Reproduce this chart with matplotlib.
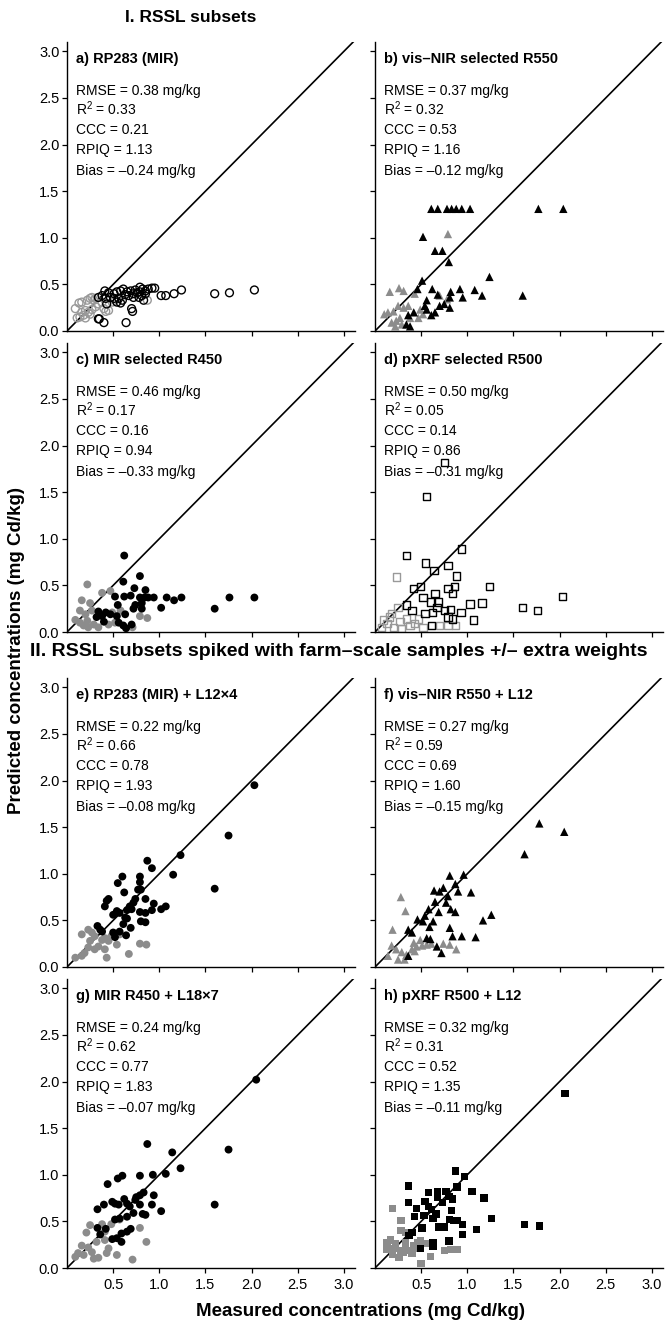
import numpy as np
import matplotlib
matplotlib.use("Agg")
import matplotlib.pyplot as plt

plt.rcParams['font.family'] = ['Liberation Sans', 'DejaVu Sans']
plt.rcParams['mathtext.fontset'] = 'custom'
plt.rcParams['mathtext.rm'] = 'Liberation Sans'
plt.rcParams['mathtext.it'] = 'Liberation Sans:italic'

# ---- data (measured x, predicted y) ----
# a) RP283 (MIR): open circles
a_blk_x = [0.41, 0.45, 0.51, 0.54, 0.58, 0.61, 0.65, 0.69, 0.72, 0.76, 0.79, 0.82, 0.85, 0.88, 0.92, 0.95,
           0.79, 0.81, 0.83, 0.78, 0.72, 0.60, 0.56, 0.54, 0.58, 0.42, 0.43, 0.70, 0.71, 0.34, 0.35, 0.40,
           0.64, 1.02, 1.07, 1.16, 1.24, 1.60, 1.76, 2.03, 0.34, 0.38, 0.47, 0.51, 0.63, 0.67, 0.74, 0.85]
a_blk_y = [0.43, 0.41, 0.40, 0.42, 0.43, 0.45, 0.42, 0.43, 0.40, 0.41, 0.47, 0.45, 0.43, 0.45, 0.46, 0.46,
           0.42, 0.38, 0.33, 0.36, 0.36, 0.33, 0.35, 0.31, 0.30, 0.35, 0.29, 0.24, 0.21, 0.13, 0.13, 0.09,
           0.09, 0.38, 0.38, 0.40, 0.44, 0.40, 0.41, 0.44, 0.36, 0.38, 0.36, 0.35, 0.39, 0.38, 0.44, 0.40]
a_gry_x = [0.09, 0.13, 0.16, 0.22, 0.25, 0.27, 0.29, 0.31, 0.11, 0.14, 0.18, 0.20, 0.23, 0.27, 0.31, 0.34,
           0.38, 0.40, 0.45, 0.49, 0.52, 0.87, 0.20, 0.25, 0.16, 0.42]
a_gry_y = [0.24, 0.30, 0.31, 0.33, 0.35, 0.36, 0.33, 0.35, 0.14, 0.15, 0.17, 0.22, 0.20, 0.23, 0.26, 0.29,
           0.31, 0.24, 0.22, 0.31, 0.33, 0.33, 0.14, 0.18, 0.20, 0.21]

# b) vis-NIR selected R550: triangles
b_blk_x = [0.61, 0.68, 0.78, 0.83, 0.88, 0.94, 1.03, 1.77, 2.04, 0.52, 0.65, 0.73, 0.80, 0.51, 1.24, 0.46,
           0.62, 0.68, 0.82, 0.92, 0.95, 1.08, 1.16, 1.60, 0.56, 0.54, 0.70, 0.75, 0.81, 0.61, 0.65, 0.42,
           0.36, 0.34, 0.38, 0.56, 0.81]
b_blk_y = [1.31, 1.31, 1.31, 1.31, 1.31, 1.31, 1.31, 1.31, 1.31, 1.01, 0.86, 0.86, 0.74, 0.54, 0.58, 0.45,
           0.45, 0.39, 0.42, 0.45, 0.36, 0.44, 0.38, 0.38, 0.33, 0.27, 0.27, 0.29, 0.36, 0.17, 0.20, 0.20,
           0.17, 0.07, 0.05, 0.23, 0.25]
b_gry_x = [0.79, 0.16, 0.26, 0.31, 0.43, 0.10, 0.14, 0.20, 0.25, 0.31, 0.36, 0.23, 0.27, 0.18, 0.38, 0.47,
           0.52, 0.78, 0.70, 0.22, 0.29, 0.49]
b_gry_y = [1.04, 0.42, 0.46, 0.43, 0.40, 0.18, 0.20, 0.21, 0.27, 0.25, 0.27, 0.11, 0.14, 0.09, 0.14, 0.14,
           0.18, 0.34, 0.38, 0.05, 0.07, 0.23]

# c) MIR selected R450: filled circles
c_blk_x = [0.62, 0.79, 0.61, 0.73, 0.85, 0.52, 0.62, 0.69, 0.79, 0.84, 0.88, 0.94, 1.08, 1.16, 1.24, 1.76,
           2.03, 1.60, 1.02, 0.55, 0.74, 0.81, 0.72, 0.81, 0.34, 0.42, 0.47, 0.38, 0.54, 0.63, 0.40, 0.56,
           0.61, 0.70, 0.64, 0.32]
c_blk_y = [0.82, 0.60, 0.54, 0.47, 0.45, 0.38, 0.38, 0.39, 0.37, 0.37, 0.37, 0.37, 0.37, 0.34, 0.37, 0.37,
           0.37, 0.25, 0.26, 0.29, 0.29, 0.31, 0.25, 0.25, 0.22, 0.21, 0.19, 0.17, 0.17, 0.19, 0.11, 0.10,
           0.07, 0.08, 0.04, 0.16]
c_gry_x = [0.22, 0.16, 0.25, 0.38, 0.47, 0.14, 0.20, 0.27, 0.09, 0.14, 0.22, 0.29, 0.34, 0.45, 0.52, 0.58,
           0.79, 0.87, 0.71, 0.23, 0.49, 0.18]
c_gry_y = [0.51, 0.34, 0.31, 0.42, 0.44, 0.23, 0.19, 0.23, 0.13, 0.10, 0.12, 0.08, 0.05, 0.08, 0.10, 0.23,
           0.17, 0.15, 0.05, 0.05, 0.21, 0.07]

# d) pXRF selected R500: open squares
d_blk_x = [0.75, 0.56, 0.94, 0.34, 0.55, 0.64, 0.79, 0.88, 0.42, 0.49, 0.65, 0.79, 0.86, 0.84, 1.24, 2.03,
           1.60, 1.76, 1.03, 1.16, 1.07, 0.34, 0.52, 0.60, 0.69, 0.67, 0.75, 0.82, 0.93, 0.79, 0.84, 0.61,
           0.54, 0.40, 0.62]
d_blk_y = [1.82, 1.45, 0.89, 0.82, 0.74, 0.66, 0.71, 0.60, 0.47, 0.49, 0.41, 0.47, 0.49, 0.41, 0.49, 0.38,
           0.26, 0.23, 0.30, 0.31, 0.13, 0.29, 0.37, 0.32, 0.32, 0.26, 0.23, 0.24, 0.21, 0.16, 0.14, 0.07,
           0.20, 0.23, 0.21]
d_gry_x = [0.23, 0.25, 0.16, 0.09, 0.13, 0.20, 0.27, 0.34, 0.38, 0.43, 0.52, 0.70, 0.79, 0.87, 0.29, 0.07,
           0.47, 0.18]
d_gry_y = [0.59, 0.26, 0.16, 0.13, 0.09, 0.05, 0.11, 0.14, 0.07, 0.09, 0.05, 0.07, 0.07, 0.07, 0.04, 0.05,
           0.14, 0.20]

# e) RP283 (MIR) + L12x4: filled circles
e_blk_x = [2.03, 1.75, 1.60, 1.23, 1.15, 0.87, 0.92, 0.60, 0.55, 0.79, 0.79, 0.62, 0.77, 0.80, 0.74, 0.85,
           0.72, 0.68, 0.70, 0.65, 0.94, 0.92, 1.02, 1.07, 0.41, 0.43, 0.45, 0.54, 0.50, 0.57, 0.63, 0.65,
           0.79, 0.85, 0.80, 0.85, 0.61, 0.69, 0.64, 0.50, 0.33, 0.36, 0.38, 0.57, 0.52]
e_blk_y = [1.95, 1.41, 0.84, 1.20, 0.99, 1.14, 1.06, 0.97, 0.90, 0.97, 0.91, 0.80, 0.83, 0.83, 0.73, 0.73,
           0.69, 0.65, 0.62, 0.61, 0.68, 0.61, 0.62, 0.65, 0.65, 0.71, 0.73, 0.60, 0.56, 0.58, 0.53, 0.52,
           0.59, 0.58, 0.49, 0.48, 0.46, 0.42, 0.34, 0.37, 0.44, 0.40, 0.38, 0.38, 0.32]
e_gry_x = [0.16, 0.23, 0.27, 0.30, 0.38, 0.41, 0.45, 0.48, 0.54, 0.30, 0.23, 0.34, 0.41, 0.16, 0.19, 0.09,
           0.43, 0.67, 0.79, 0.86, 0.57, 0.25]
e_gry_y = [0.35, 0.40, 0.37, 0.33, 0.29, 0.31, 0.28, 0.33, 0.24, 0.19, 0.21, 0.22, 0.19, 0.12, 0.15, 0.10,
           0.10, 0.14, 0.25, 0.24, 0.35, 0.28]

# f) vis-NIR R550 + L12: triangles
f_blk_x = [1.78, 2.05, 1.62, 0.81, 0.96, 0.64, 0.70, 0.74, 0.87, 0.90, 1.04, 0.79, 0.65, 0.77, 0.82, 0.69,
           0.87, 0.58, 0.54, 0.46, 0.52, 0.63, 0.59, 1.17, 1.26, 0.81, 0.36, 0.40, 0.56, 0.60, 0.84, 0.94,
           1.09, 0.67, 0.72, 0.36]
f_blk_y = [1.54, 1.45, 1.21, 0.98, 0.99, 0.82, 0.81, 0.85, 0.89, 0.81, 0.80, 0.76, 0.70, 0.69, 0.62, 0.59,
           0.59, 0.62, 0.55, 0.51, 0.49, 0.49, 0.43, 0.50, 0.56, 0.42, 0.40, 0.37, 0.31, 0.30, 0.33, 0.33,
           0.32, 0.22, 0.15, 0.12]
f_gry_x = [0.28, 0.33, 0.19, 0.18, 0.23, 0.29, 0.34, 0.40, 0.45, 0.51, 0.56, 0.61, 0.74, 0.81, 0.88, 0.49,
           0.43, 0.14, 0.25, 0.32, 0.42]
f_gry_y = [0.75, 0.60, 0.40, 0.23, 0.19, 0.16, 0.13, 0.19, 0.22, 0.23, 0.24, 0.25, 0.25, 0.24, 0.19, 0.29,
           0.17, 0.12, 0.08, 0.08, 0.26]

# g) MIR R450 + L18x7: filled circles
g_blk_x = [2.05, 0.87, 1.14, 1.75, 1.23, 1.07, 0.93, 0.79, 0.60, 0.55, 0.44, 1.60, 0.83, 0.94, 0.79, 0.75,
           0.74, 0.62, 0.49, 0.40, 0.33, 0.52, 0.56, 0.65, 0.68, 0.79, 0.92, 1.02, 0.72, 0.82, 0.85, 0.65,
           0.57, 0.52, 0.33, 0.42, 0.36, 0.69, 0.65, 0.59, 0.49, 0.54, 0.59]
g_blk_y = [2.02, 1.33, 1.24, 1.27, 1.07, 1.01, 1.00, 0.99, 0.99, 0.96, 0.90, 0.68, 0.81, 0.78, 0.78, 0.76,
           0.73, 0.74, 0.71, 0.68, 0.63, 0.69, 0.68, 0.69, 0.66, 0.68, 0.68, 0.61, 0.59, 0.58, 0.57, 0.55,
           0.53, 0.52, 0.43, 0.42, 0.36, 0.42, 0.39, 0.37, 0.31, 0.32, 0.28]
g_gry_x = [0.25, 0.21, 0.38, 0.48, 0.41, 0.57, 0.79, 0.86, 0.16, 0.23, 0.32, 0.41, 0.45, 0.12, 0.18, 0.27,
           0.34, 0.43, 0.54, 0.71, 0.29, 0.09]
g_gry_y = [0.46, 0.38, 0.47, 0.47, 0.39, 0.52, 0.43, 0.28, 0.24, 0.22, 0.28, 0.30, 0.21, 0.16, 0.14, 0.17,
           0.11, 0.16, 0.14, 0.09, 0.10, 0.12]

# h) pXRF R500 + L12: filled squares
h_blk_x = [2.06, 0.87, 0.97, 0.36, 0.58, 0.68, 0.77, 1.05, 1.18, 0.89, 0.68, 0.80, 0.84, 0.73, 0.36, 0.54,
           0.58, 0.45, 0.61, 0.83, 0.66, 0.43, 0.53, 0.63, 0.81, 0.85, 0.89, 0.95, 1.26, 1.62, 1.78, 1.10,
           0.95, 0.51, 0.69, 0.75, 0.40, 0.37, 0.80, 0.63, 0.63, 0.49]
h_blk_y = [1.87, 1.04, 0.98, 0.88, 0.81, 0.82, 0.82, 0.82, 0.75, 0.87, 0.76, 0.77, 0.74, 0.70, 0.70, 0.71,
           0.66, 0.64, 0.63, 0.62, 0.58, 0.55, 0.56, 0.53, 0.52, 0.51, 0.51, 0.47, 0.53, 0.47, 0.45, 0.41,
           0.36, 0.43, 0.44, 0.44, 0.38, 0.35, 0.29, 0.27, 0.23, 0.21]
h_gry_x = [0.19, 0.28, 0.28, 0.33, 0.17, 0.13, 0.22, 0.33, 0.46, 0.49, 0.57, 0.42, 0.13, 0.21, 0.28, 0.35,
           0.46, 0.75, 0.82, 0.89, 0.60, 0.19, 0.31, 0.40, 0.26, 0.50]
h_gry_y = [0.64, 0.51, 0.40, 0.38, 0.30, 0.27, 0.26, 0.27, 0.27, 0.29, 0.26, 0.24, 0.20, 0.21, 0.19, 0.19,
           0.21, 0.19, 0.20, 0.20, 0.12, 0.15, 0.17, 0.16, 0.11, 0.05]

titles = ['a) RP283 (MIR)', 'b) vis\u2013NIR selected R550', 'c) MIR selected R450', 'd) pXRF selected R500',
          'e) RP283 (MIR) + L12\u00d74', 'f) vis\u2013NIR R550 + L12', 'g) MIR R450 + L18\u00d77',
          'h) pXRF R500 + L12']
rmse = ['0.38', '0.37', '0.46', '0.50', '0.22', '0.27', '0.24', '0.32']
r2 = ['0.33', '0.32', '0.17', '0.05', '0.66', '0.59', '0.62', '0.31']
ccc = ['0.21', '0.53', '0.16', '0.14', '0.78', '0.69', '0.77', '0.52']
rpiq = ['1.13', '1.16', '0.94', '0.86', '1.93', '1.60', '1.83', '1.35']
bias = ['0.24', '0.12', '0.33', '0.31', '0.08', '0.15', '0.07', '0.11']

panels = [
    (a_blk_x, a_blk_y, a_gry_x, a_gry_y, 'o', False),
    (b_blk_x, b_blk_y, b_gry_x, b_gry_y, '^', True),
    (c_blk_x, c_blk_y, c_gry_x, c_gry_y, 'o', True),
    (d_blk_x, d_blk_y, d_gry_x, d_gry_y, 's', False),
    (e_blk_x, e_blk_y, e_gry_x, e_gry_y, 'o', True),
    (f_blk_x, f_blk_y, f_gry_x, f_gry_y, '^', True),
    (g_blk_x, g_blk_y, g_gry_x, g_gry_y, 'o', True),
    (h_blk_x, h_blk_y, h_gry_x, h_gry_y, 's', True),
]

W, H = 665, 1326
fig = plt.figure(figsize=(W / 100, H / 100), dpi=100)

# axes placement in pixels (left edge, bottom edge from top)
col_left = [67, 375]
row_bottom = [331, 632, 967, 1268]
ax_w, ax_h = 288, 289

for i, (bx, by, gx, gy, mk, filled) in enumerate(panels):
    r, c = divmod(i, 2)
    rect = [col_left[c] / W, (H - row_bottom[r]) / H, ax_w / W, ax_h / H]
    ax = fig.add_axes(rect)
    ax.set_xlim(0, 3.12)
    ax.set_ylim(0, 3.1)
    ax.plot([0, 3.2], [0, 3.2], color='black', lw=1.2, zorder=1)

    ms = 32 if mk != '^' else 36
    if mk == 's':
        ms = 28
    if filled:
        ax.scatter(gx, gy, s=ms, marker=mk, color='#8c8c8c', edgecolors='none', zorder=2)
        ax.scatter(bx, by, s=ms, marker=mk, color='black', edgecolors='none', zorder=3)
    else:
        ax.scatter(gx, gy, s=ms, marker=mk, facecolors='none', edgecolors='#999999', linewidths=1.0, zorder=2)
        ax.scatter(bx, by, s=ms, marker=mk, facecolors='none', edgecolors='black', linewidths=1.0, zorder=3)

    for sp in ['top', 'right']:
        ax.spines[sp].set_visible(False)
    ax.spines['left'].set_linewidth(1.0)
    ax.spines['bottom'].set_linewidth(1.0)
    ax.set_xticks([0.5, 1.0, 1.5, 2.0, 2.5, 3.0])
    ax.set_yticks([0.0, 0.5, 1.0, 1.5, 2.0, 2.5, 3.0])
    ax.tick_params(direction='out', length=3.5, width=0.9, labelsize=10.5, pad=2)
    ax.tick_params(axis='x', pad=4)
    if r < 3:
        ax.set_xticklabels([])
    if c == 1:
        ax.set_yticklabels([])

    tx = 0.031
    ax.text(tx, 0.94, titles[i], transform=ax.transAxes, fontsize=10.5, fontweight='bold', va='center')
    ax.text(tx, 0.830, 'RMSE = %s mg/kg' % rmse[i], transform=ax.transAxes, fontsize=10, va='center')
    ax.text(tx, 0.768, 'R$^2$ = %s' % r2[i], transform=ax.transAxes, fontsize=10, va='center')
    ax.text(tx, 0.695, 'CCC = %s' % ccc[i], transform=ax.transAxes, fontsize=10, va='center')
    ax.text(tx, 0.625, 'RPIQ = %s' % rpiq[i], transform=ax.transAxes, fontsize=10, va='center')
    ax.text(tx, 0.555, 'Bias = \u2013%s mg/kg' % bias[i], transform=ax.transAxes, fontsize=10, va='center')

fig.text(191 / W, 1 - 17 / H, 'I. RSSL subsets', ha='center', va='center', fontsize=12.5, fontweight='bold')
fig.text(339 / W, 1 - 652 / H, 'II. RSSL subsets spiked with farm\u2013scale samples +/\u2013 extra weights',
         ha='center', va='center', fontsize=14, fontweight='bold')
fig.text(17 / W, 1 - 650 / H, 'Predicted concentrations (mg Cd/kg)', rotation=90,
         ha='center', va='center', fontsize=13.5, fontweight='bold')
fig.text(360 / W, 1 - 1312 / H, 'Measured concentrations (mg Cd/kg)', ha='center', va='center',
         fontsize=13.5, fontweight='bold')

fig.savefig('out.png', dpi=100)
